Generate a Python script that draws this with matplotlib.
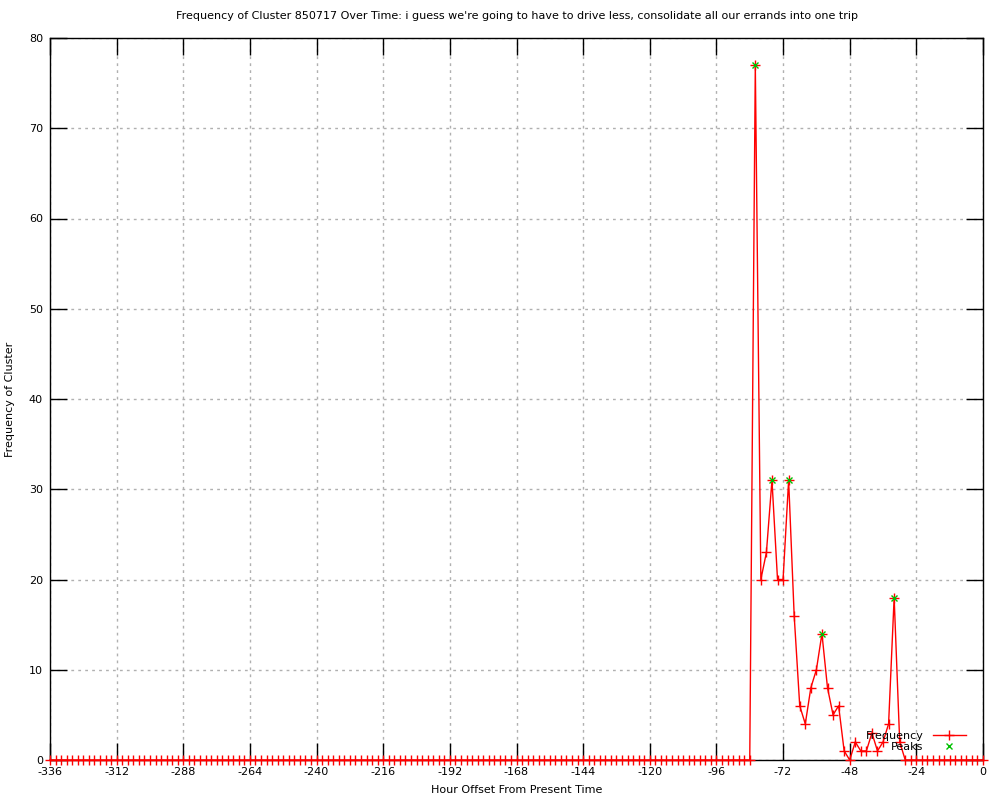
import numpy as np
import matplotlib
matplotlib.use("Agg")
import matplotlib.pyplot as plt

plt.rcParams['font.family'] = ['DejaVu Sans']
plt.rcParams['axes.unicode_minus'] = False

# horas de -336 a 0 cada 2 horas
hours = list(range(-336, 1, 2))

# valores no nulos (hora: frecuencia)
nonzero_hours = [-82, -80, -78, -76, -74, -72, -70, -68, -66, -64, -62, -60,
                 -58, -56, -54, -52, -50, -48, -46, -44, -42, -40, -38, -36,
                 -34, -32, -30]
nonzero_vals = [77, 20, 23, 31, 20, 20, 31, 16, 6, 4, 8, 10,
                14, 8, 5, 6, 1, 0, 2, 1, 1, 3, 1, 2,
                4, 18, 2]

freq = [0] * len(hours)
for h, v in zip(nonzero_hours, nonzero_vals):
    freq[hours.index(h)] = v

peak_hours = [-82, -76, -70, -58, -32]
peak_vals = [77, 31, 31, 14, 18]

xticks = list(range(-336, 1, 24))
yticks = list(range(0, 81, 10))

fig = plt.figure(figsize=(10, 8), dpi=100)
ax = fig.add_axes([0.05, 0.05, 0.933, 0.9025])

ax.plot(hours, freq, color='#ff0000', lw=1, marker='+', ms=6.5, mew=1,
        label='Frequency', clip_on=False, zorder=3)
ax.plot(peak_hours, peak_vals, ls='none', color='#00c000', marker='x', ms=5,
        mew=1, label='Peaks', clip_on=False, zorder=4)

ax.set_xlim(-336, 0)
ax.set_ylim(0, 80)
ax.set_xticks(xticks)
ax.set_yticks(yticks)
ax.tick_params(direction='in', length=12, width=1, top=True, right=True,
               labelsize=8, pad=5)
ax.grid(True, color='#b0b0b0', ls=(0, (2, 3)), lw=1)
for s in ax.spines.values():
    s.set_linewidth(1)

ax.set_title("Frequency of Cluster 850717 Over Time: i guess we're going to have to drive less, consolidate all our errands into one trip",
             fontsize=8, pad=14)
ax.set_xlabel('Hour Offset From Present Time', fontsize=8, labelpad=6)
ax.set_ylabel('Frequency of Cluster', fontsize=8, labelpad=10)

leg = ax.legend(loc='lower right', bbox_to_anchor=(0.99, 0.0), frameon=False,
                fontsize=8, markerfirst=False, handlelength=3,
                labelspacing=0.1, borderaxespad=0.3)
for t in leg.get_texts():
    t.set_ha('right')

fig.savefig('out.png', dpi=100)
